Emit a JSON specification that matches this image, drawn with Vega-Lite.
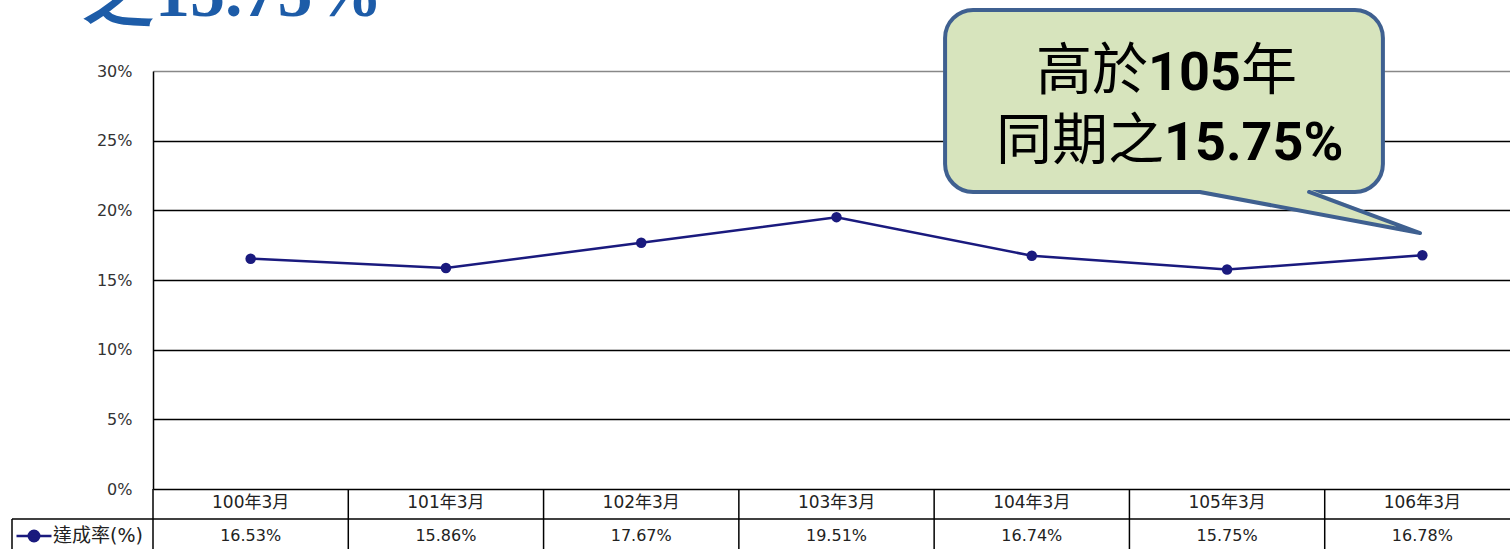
{
  "$schema": "https://vega.github.io/schema/vega-lite/v6.json",
  "width": 1357,
  "height": 418,
  "autosize": {"type": "none"},
  "padding": {"left": 153, "top": 71, "right": 0, "bottom": 60},
  "background": "white",
  "config": {
    "view": {"stroke": null},
    "font": "DejaVu Sans"
  },
  "title": {
    "text": "之15.75%",
    "anchor": "start",
    "frame": "group",
    "orient": "top",
    "offset": 0,
    "baseline": "alphabetic",
    "dx": -68,
    "dy": 78,
    "fontSize": 70,
    "font": "Liberation Serif",
    "fontWeight": "bold",
    "color": "#1d5ca8"
  },
  "datasets": {
    "rates": [
      {"period": "100年3月", "rate": 0.1653, "series": "達成率(%)"},
      {"period": "101年3月", "rate": 0.1586, "series": "達成率(%)"},
      {"period": "102年3月", "rate": 0.1767, "series": "達成率(%)"},
      {"period": "103年3月", "rate": 0.1951, "series": "達成率(%)"},
      {"period": "104年3月", "rate": 0.1674, "series": "達成率(%)"},
      {"period": "105年3月", "rate": 0.1575, "series": "達成率(%)"},
      {"period": "106年3月", "rate": 0.1678, "series": "達成率(%)"}
    ],
    "callout": [{"x": 3.556, "x2": 5.798, "y": 0.3438, "y2": 0.2132}],
    "tailfill": [
      {"x": 4.861, "y": 0.2153, "y2": 0.2118},
      {"x": 5.42, "y": 0.2153, "y2": 0.1986},
      {"x": 5.988, "y": 0.1837, "y2": 0.1837}
    ],
    "tailline": [
      {"k": 1, "x": 4.861, "y": 0.2132},
      {"k": 2, "x": 5.988, "y": 0.1837},
      {"k": 3, "x": 5.42, "y": 0.2132}
    ],
    "frame": [
      {"x": -1.222, "x2": 7, "y": -0.02153, "y2": -0.02153},
      {"x": -1.222, "x2": -1.222, "y": -0.02153, "y2": -0.05}
    ],
    "notes": [
      {"t": "高於", "x": 4.595, "y": 0.2993, "a": "right", "w": "normal"},
      {"t": "105", "x": 4.595, "y": 0.2993, "a": "left", "w": "bold"},
      {"t": "年", "x": 5.071, "y": 0.2993, "a": "left", "w": "normal"},
      {"t": "同期之", "x": 4.677, "y": 0.249, "a": "right", "w": "normal"},
      {"t": "15.75%", "x": 4.677, "y": 0.249, "a": "left", "w": "bold"}
    ]
  },
  "layer": [
    {
      "data": {"name": "rates"},
      "layer": [
        {
          "mark": {"type": "rule", "color": "#000", "strokeWidth": 1.5},
          "encoding": {
            "x": {"field": "period", "type": "nominal", "bandPosition": 0, "axis": null,
                  "scale": {"type": "band", "range": [0, 1367], "paddingInner": 0, "paddingOuter": 0}},
            "y": {"datum": 0, "type": "quantitative", "scale": {"domain": [0, 0.3], "nice": false, "zero": false}},
            "y2": {"datum": -0.05}
          }
        },
        {
          "mark": {"type": "line", "strokeWidth": 2.5, "point": {"filled": true, "size": 110}},
          "encoding": {
            "x": {"field": "period", "type": "nominal", "axis": null,
                  "scale": {"type": "band", "range": [0, 1367], "paddingInner": 0, "paddingOuter": 0}},
            "y": {"field": "rate", "type": "quantitative",
                  "scale": {"domain": [0, 0.3], "nice": false, "zero": false},
                  "axis": {
                    "title": null,
                    "values": [0, 0.05, 0.1, 0.15, 0.2, 0.25, 0.3],
                    "format": ".0%",
                    "domainColor": "#000",
                    "domainWidth": 1.5,
                    "gridColor": {"condition": {"test": "datum.value >= 0.3", "value": "#888888"}, "value": "#000000"},
                    "gridWidth": 1.5,
                    "grid": true,
                    "ticks": false,
                    "tickSize": 0,
                    "labelPadding": 21,
                    "labelFontSize": 16,
                    "labelFont": "DejaVu Sans",
                    "labelColor": "#333333"
                  }},
            "color": {"field": "series", "type": "nominal",
                      "scale": {"range": ["#1a1a7e"]},
                      "legend": {
                        "orient": "none",
                        "legendX": -138,
                        "legendY": 446,
                        "title": null,
                        "padding": 0,
                        "symbolType": "M-1,0H1M0.3,0A0.3,0.3,0,1,1,-0.3,0A0.3,0.3,0,1,1,0.3,0",
                        "symbolSize": 1225,
                        "symbolStrokeWidth": 2.5,
                        "labelFontSize": 19,
                        "labelFont": "DejaVu Sans, Noto Sans CJK TC",
                        "labelColor": "#222222",
                        "labelOffset": 0,
                        "encode": {"symbols": {"update": {"fill": {"value": "#1a1a7e"}, "stroke": {"value": "#1a1a7e"}}}}
                      }}
          }
        },
        {
          "mark": {"type": "text", "fontSize": 17, "font": "DejaVu Sans, Noto Sans CJK TC", "color": "#222222", "baseline": "middle"},
          "encoding": {
            "x": {"field": "period", "type": "nominal", "axis": null,
                  "scale": {"type": "band", "range": [0, 1367], "paddingInner": 0, "paddingOuter": 0}},
            "y": {"datum": -0.0104, "type": "quantitative", "scale": {"domain": [0, 0.3], "nice": false, "zero": false}},
            "text": {"field": "period"}
          }
        },
        {
          "mark": {"type": "text", "fontSize": 16, "font": "DejaVu Sans, Noto Sans CJK TC", "color": "#222222", "baseline": "middle"},
          "encoding": {
            "x": {"field": "period", "type": "nominal", "axis": null,
                  "scale": {"type": "band", "range": [0, 1367], "paddingInner": 0, "paddingOuter": 0}},
            "y": {"datum": -0.0337, "type": "quantitative", "scale": {"domain": [0, 0.3], "nice": false, "zero": false}},
            "text": {"field": "rate", "type": "quantitative", "format": ".2%"}
          }
        }
      ]
    },
    {
      "layer": [
        {
          "data": {"name": "frame"},
          "mark": {"type": "rule", "color": "#000", "strokeWidth": 1.5},
          "encoding": {
            "x": {"field": "x", "type": "quantitative", "axis": null, "scale": {"domain": [-0.5, 6.5], "range": [0, 1367], "nice": false, "zero": false}},
            "x2": {"field": "x2"},
            "y": {"field": "y", "type": "quantitative", "title": null, "scale": {"domain": [0, 0.3], "nice": false, "zero": false}},
            "y2": {"field": "y2"}
          }
        },
        {
          "data": {"name": "callout"},
          "mark": {"type": "rect", "fill": "#d7e4bd", "stroke": "#3f6090", "strokeWidth": 4, "cornerRadius": 28},
          "encoding": {
            "x": {"field": "x", "type": "quantitative", "axis": null, "scale": {"domain": [-0.5, 6.5], "range": [0, 1367], "nice": false, "zero": false}},
            "x2": {"field": "x2"},
            "y": {"field": "y", "type": "quantitative", "title": null, "scale": {"domain": [0, 0.3], "nice": false, "zero": false}},
            "y2": {"field": "y2"}
          }
        },
        {
          "data": {"name": "tailfill"},
          "mark": {"type": "area", "fill": "#d7e4bd", "orient": "vertical"},
          "encoding": {
            "x": {"field": "x", "type": "quantitative", "axis": null, "scale": {"domain": [-0.5, 6.5], "range": [0, 1367], "nice": false, "zero": false}},
            "y": {"field": "y", "type": "quantitative", "title": null, "scale": {"domain": [0, 0.3], "nice": false, "zero": false}},
            "y2": {"field": "y2"}
          }
        },
        {
          "data": {"name": "tailline"},
          "mark": {"type": "line", "color": "#3f6090", "strokeWidth": 4, "strokeCap": "round", "strokeJoin": "round"},
          "encoding": {
            "x": {"field": "x", "type": "quantitative", "axis": null, "scale": {"domain": [-0.5, 6.5], "range": [0, 1367], "nice": false, "zero": false}},
            "y": {"field": "y", "type": "quantitative", "title": null, "scale": {"domain": [0, 0.3], "nice": false, "zero": false}},
            "order": {"field": "k", "type": "quantitative"}
          }
        },
        {
          "data": {"name": "notes"},
          "transform": [{"filter": "datum.w == 'normal' && datum.a == 'right'"}],
          "mark": {"type": "text", "align": "right", "baseline": "middle", "fontSize": 56, "font": "Noto Sans CJK TC", "color": "#000000"},
          "encoding": {
            "x": {"field": "x", "type": "quantitative", "axis": null, "scale": {"domain": [-0.5, 6.5], "range": [0, 1367], "nice": false, "zero": false}},
            "y": {"field": "y", "type": "quantitative", "title": null, "scale": {"domain": [0, 0.3], "nice": false, "zero": false}},
            "text": {"field": "t"}
          }
        },
        {
          "data": {"name": "notes"},
          "transform": [{"filter": "datum.w == 'normal' && datum.a == 'left'"}],
          "mark": {"type": "text", "align": "left", "baseline": "middle", "fontSize": 56, "font": "Noto Sans CJK TC", "color": "#000000"},
          "encoding": {
            "x": {"field": "x", "type": "quantitative", "axis": null, "scale": {"domain": [-0.5, 6.5], "range": [0, 1367], "nice": false, "zero": false}},
            "y": {"field": "y", "type": "quantitative", "title": null, "scale": {"domain": [0, 0.3], "nice": false, "zero": false}},
            "text": {"field": "t"}
          }
        },
        {
          "data": {"name": "notes"},
          "transform": [{"filter": "datum.w == 'bold'"}],
          "mark": {"type": "text", "align": "left", "baseline": "middle", "fontSize": 54, "font": "Roboto", "fontWeight": "bold", "color": "#000000", "dy": 2},
          "encoding": {
            "x": {"field": "x", "type": "quantitative", "axis": null, "scale": {"domain": [-0.5, 6.5], "range": [0, 1367], "nice": false, "zero": false}},
            "y": {"field": "y", "type": "quantitative", "title": null, "scale": {"domain": [0, 0.3], "nice": false, "zero": false}},
            "text": {"field": "t"}
          }
        }
      ]
    }
  ],
  "resolve": {"scale": {"x": "independent"}}
}
